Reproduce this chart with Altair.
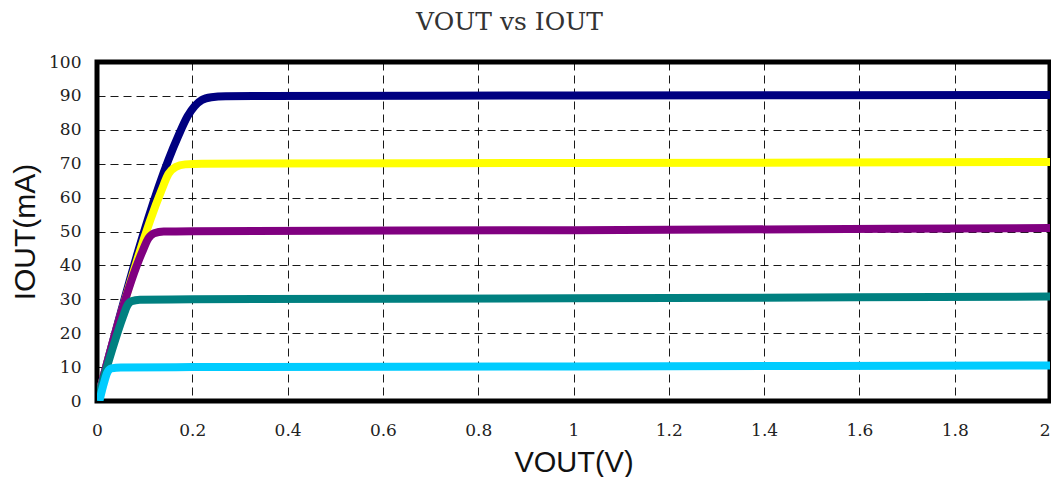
import altair as alt
import pandas as pd

series_names = ["90mA", "70mA", "50mA", "30mA", "10mA"]
series_colors = ["#000080", "#ffff00", "#800080", "#008080", "#00ccff"]

vout_90 = [0, 0.17, 0.19, 0.205, 0.22, 0.24, 0.27, 0.35, 1.0, 2.0]
iout_90 = [0, 78, 84, 87, 88.8, 89.6, 89.9, 90, 90.1, 90.3]

vout_70 = [0, 0.135, 0.15, 0.165, 0.185, 0.22, 1.0, 2.0]
iout_70 = [0, 62, 67, 69, 69.8, 70, 70.2, 70.5]

vout_50 = [0, 0.095, 0.108, 0.12, 0.14, 0.2, 1.0, 2.0]
iout_50 = [0, 44, 48, 49.5, 50, 50.1, 50.4, 51]

vout_30 = [0, 0.055, 0.063, 0.072, 0.09, 0.2, 1.0, 2.0]
iout_30 = [0, 25, 28, 29.4, 29.9, 30, 30.3, 30.8]

vout_10 = [0.005, 0.015, 0.022, 0.03, 0.05, 0.2, 1.0, 2.0]
iout_10 = [0, 5.5, 8.5, 9.6, 9.9, 10, 10.2, 10.5]

x_ticks = [0, 0.2, 0.4, 0.6, 0.8, 1, 1.2, 1.4, 1.6, 1.8, 2]
y_ticks = [0, 10, 20, 30, 40, 50, 60, 70, 80, 90, 100]

all_v = [vout_90, vout_70, vout_50, vout_30, vout_10]
all_i = [iout_90, iout_70, iout_50, iout_30, iout_10]

rows = []
for name, vs, is_ in zip(series_names, all_v, all_i):
    for k, (v, i) in enumerate(zip(vs, is_)):
        rows.append({"series": name, "vout": v, "iout": i, "k": k})
df = pd.DataFrame(rows)

chart = alt.Chart(df).mark_line(strokeWidth=8, interpolate="monotone", clip=True).encode(
    x=alt.X("vout:Q", scale=alt.Scale(domain=[0, 2], nice=False),
            axis=alt.Axis(title="VOUT(V)", values=x_ticks,
                          labelAlign={"condition": {"test": "datum.value == 2", "value": "right"},
                                      "value": "center"},
                          format="~g", labelPadding=21, titlePadding=10, titleFontSize=29)),
    y=alt.Y("iout:Q", scale=alt.Scale(domain=[0, 100], nice=False),
            axis=alt.Axis(title="IOUT(mA)", values=y_ticks,
                          labelPadding=16, titlePadding=8)),
    color=alt.Color("series:N", scale=alt.Scale(domain=series_names, range=series_colors), legend=None),
    order=alt.Order("k:Q"),
).properties(
    width=953, height=339,
    padding={"left": 2, "top": 2, "right": 0, "bottom": 0},
    autosize=alt.AutoSizeParams(type="pad"),
    title=alt.TitleParams("VOUT vs IOUT", font="DejaVu Serif", fontSize=25, fontWeight="normal",
                          color="#333", offset=18, dx=-64, anchor="middle"),
).configure_view(
    stroke="black", strokeWidth=5
).configure_axis(
    grid=True, gridColor="black", gridDash=[8, 5], gridWidth=1, gridOpacity=0.9,
    domain=False, tickSize=0,
    labelFont="DejaVu Serif", labelFontSize=17, labelColor="#222",
    titleFont="Liberation Sans", titleFontSize=30, titleFontWeight="normal", titleColor="#111",
)

chart.save("out.html", embed_options={"renderer": "svg", "actions": False})
